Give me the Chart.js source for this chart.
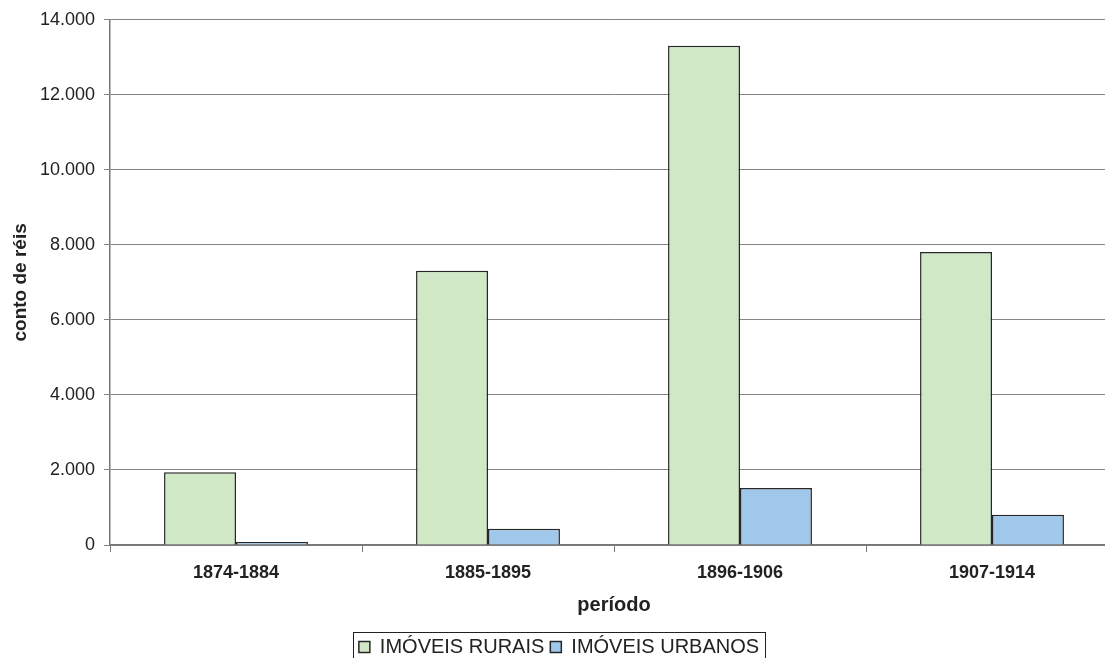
<!DOCTYPE html>
<html>
<head>
<meta charset="utf-8">
<script src="https://cdn.jsdelivr.net/npm/chart.js@4/dist/chart.umd.min.js"></script>
<style>
  html, body { margin: 0; padding: 0; background: #fff; overflow: hidden; }
  #wrap { width: 1120px; height: 667px; }
</style>
</head>
<body>
<div id="wrap"><canvas id="chart" width="1120" height="667"></canvas></div>
<script>
// data
var periods = ["1874-1884", "1885-1895", "1896-1906", "1907-1914"];
var rurais = [1940, 7310, 13310, 7810];
var urbanos = [80, 435, 1520, 808];
var seriesNames = ["IMÓVEIS RURAIS", "IMÓVEIS URBANOS"];

var FONT = "'Liberation Sans', Arial, sans-serif";

// box around the legend, like the Excel original
var legendBox = {
    id: "legendBox",
    afterDraw: function (chart) {
        var boxes = chart.legend.legendHitBoxes;
        if (!boxes || !boxes.length) return;
        var l = boxes[0].left - 6;
        var r = boxes[boxes.length - 1].left + boxes[boxes.length - 1].width + 6;
        var t = boxes[0].top - 5;
        var b = boxes[0].top + boxes[0].height + 6;
        var ctx = chart.ctx;
        ctx.save();
        ctx.strokeStyle = "#222";
        ctx.lineWidth = 1;
        ctx.strokeRect(Math.round(l) + 0.5, Math.round(t) + 0.5, Math.round(r - l), Math.round(b - t));
        ctx.restore();
    }
};

new Chart(document.getElementById("chart").getContext("2d"), {
    type: "bar",
    data: {
        labels: periods,
        datasets: [{
            label: seriesNames[0],
            data: rurais,
            backgroundColor: "#d0e8c6",
            borderColor: "#262626",
            borderWidth: 1.5
        }, {
            label: seriesNames[1],
            data: urbanos,
            backgroundColor: "#9fc8ea",
            borderColor: "#262626",
            borderWidth: 1.5
        }]
    },
    options: {
        responsive: false,
        animation: false,
        layout: { padding: { top: 14, right: 2, left: 0, bottom: 0 } },
        datasets: {
            bar: { categoryPercentage: 0.571, barPercentage: 1.0 }
        },
        plugins: {
            tooltip: { enabled: false },
            legend: {
                position: "bottom",
                labels: {
                    color: "#222",
                    font: { family: FONT, size: 20 },
                    boxWidth: 11,
                    boxHeight: 11,
                    padding: 6
                }
            }
        },
        scales: {
            x: {
                grid: { drawOnChartArea: false, drawTicks: true, tickLength: 7, color: "#777", offset: true },
                border: { color: "#777", width: 1.5 },
                ticks: { color: "#222", font: { family: FONT, size: 18, weight: "bold" }, padding: 10, maxRotation: 0 },
                title: {
                    display: true,
                    text: "período",
                    color: "#222",
                    font: { family: FONT, size: 20, weight: "bold" },
                    padding: { top: 0, bottom: 14 }
                },
                afterFit: function (scale) { scale.height = 86; }
            },
            y: {
                min: 0,
                max: 14000,
                grid: { color: "#858585", lineWidth: 1, tickLength: 6, drawTicks: true },
                border: { color: "#777", width: 1.5 },
                ticks: {
                    stepSize: 2000,
                    color: "#222",
                    font: { family: FONT, size: 18 },
                    padding: 9,
                    callback: function (v) { return v.toLocaleString("pt-BR"); }
                },
                title: {
                    display: true,
                    text: "conto de réis",
                    color: "#222",
                    font: { family: FONT, size: 19, weight: "bold" },
                    padding: { top: 9, bottom: 0 }
                },
                afterFit: function (scale) { scale.width = 110; }
            }
        }
    },
    plugins: [legendBox]
});
</script>
</body>
</html>
